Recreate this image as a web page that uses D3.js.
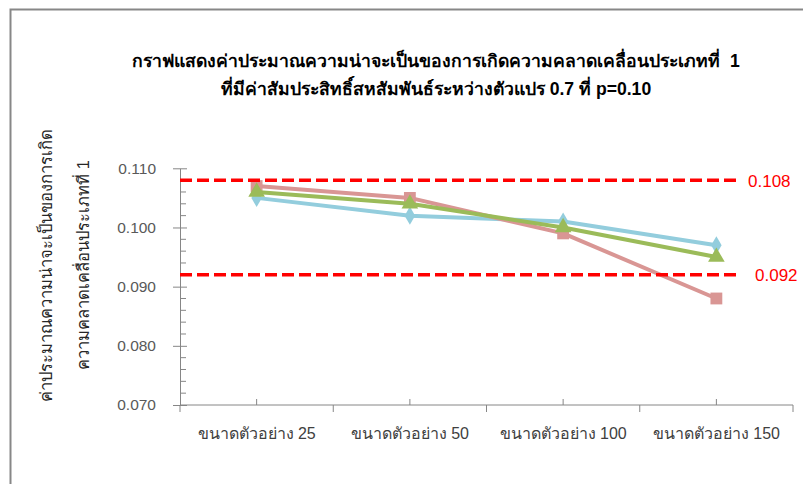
<!DOCTYPE html>
<html>
<head>
<meta charset="utf-8">
<script src="https://cdn.jsdelivr.net/npm/d3@7"></script>
<style>
  html, body { margin: 0; padding: 0; background: #fff; }
  svg { display: block; font-family: "Liberation Sans", Arial, "Noto Sans", sans-serif; }
  .title { white-space: pre; }
</style>
</head>
<body>
<svg id="chart" width="803" height="484"></svg>
<script>
// Sample-size categories along the x axis
const categories = ["ขนาดตัวอย่าง 25", "ขนาดตัวอย่าง 50", "ขนาดตัวอย่าง 100", "ขนาดตัวอย่าง 150"];

// Estimated Type I error rate for each series
const seriesBlue  = [0.105, 0.102, 0.101, 0.097];
const seriesRed   = [0.107, 0.105, 0.099, 0.088];
const seriesGreen = [0.106, 0.104, 0.100, 0.095];

// Acceptable range bounds (dashed reference lines)
const boundValues = [0.108, 0.092];
const boundLabels = ["0.108", "0.092"];

// Y axis ticks
const yTicks = [0.070, 0.080, 0.090, 0.100, 0.110];
const yMinorTicks = d3.range(35, 56).map(d => d * 0.002);

const titleLines = [
  "กราฟแสดงค่าประมาณความน่าจะเป็นของการเกิดความคลาดเคลื่อนประเภทที่  1",
  "ที่มีค่าสัมประสิทธิ์สหสัมพันธ์ระหว่างตัวแปร 0.7 ที่ p=0.10"
];
const yTitleLines = ["ค่าประมาณความน่าจะเป็นของการเกิด", "ความคลาดเคลื่อนประเภทที่ 1"];

const svg = d3.select("#chart");
const plot = { left: 180, right: 793, top: 168.3, bottom: 405 };

const x = d3.scaleBand().domain(categories).range([plot.left, plot.right]);
const y = d3.scaleLinear().domain([0.070, 0.110]).range([plot.bottom, plot.top]);
const cx = d => x(d) + x.bandwidth() / 2;

const axisColor = "#868686";

// Outer frame
svg.append("path")
  .attr("d", "M10.5,484 L10.5,9.5 L803,9.5")
  .attr("fill", "none").attr("stroke", "#878787").attr("stroke-width", 2);

// Title
svg.append("g").selectAll("text").data(titleLines).join("text")
  .attr("class", "title")
  .attr("x", 436).attr("y", (d, i) => 67 + i * 28)
  .attr("text-anchor", "middle")
  .attr("font-size", 17.6).attr("font-weight", "bold").attr("fill", "#000")
  .text(d => d);

// Y axis title (two rotated lines)
svg.append("g").selectAll("text").data(yTitleLines).join("text")
  .attr("transform", (d, i) => `translate(${46 + i * 37},265) rotate(-90)`)
  .attr("text-anchor", "middle").attr("dominant-baseline", "central")
  .attr("font-size", 16.5).attr("fill", "#262626")
  .text(d => d);

// Y axis: major ticks crossing the line, minor ticks inside
const yAxis = svg.append("g").attr("transform", `translate(${plot.left},0)`);
yAxis.call(d3.axisLeft(y).tickValues(yTicks).tickFormat(d3.format(".3f")).tickSizeInner(7).tickSizeOuter(0).tickPadding(17));
yAxis.select(".domain").attr("stroke", axisColor);
yAxis.selectAll(".tick line").attr("stroke", axisColor).attr("x2", 7).attr("x1", -7);
yAxis.selectAll(".tick text").attr("font-size", 15.5).attr("fill", "#595959")
  .attr("font-family", "'Liberation Sans', Arial, sans-serif");
yAxis.selectAll("line.minor").data(yMinorTicks.filter(v => !yTicks.some(t => Math.abs(t - v) < 1e-9)))
  .join("line").attr("class", "minor")
  .attr("x1", 0).attr("x2", 6)
  .attr("y1", d => y(d)).attr("y2", d => y(d))
  .attr("stroke", axisColor);

// X axis: boundary ticks outside, midpoint ticks inside
const xAxis = svg.append("g").attr("transform", `translate(0,${plot.bottom})`);
xAxis.append("line").attr("x1", plot.left).attr("x2", plot.right)
  .attr("stroke", axisColor);
const bounds = categories.map(c => x(c)).concat([plot.right]);
xAxis.selectAll("line.bound").data(bounds).join("line").attr("class", "bound")
  .attr("x1", d => d).attr("x2", d => d).attr("y1", 0).attr("y2", 7).attr("stroke", axisColor);
xAxis.selectAll("line.mid").data(categories).join("line").attr("class", "mid")
  .attr("x1", d => cx(d)).attr("x2", d => cx(d)).attr("y1", -6).attr("y2", 0).attr("stroke", axisColor);
xAxis.selectAll("text").data(categories).join("text")
  .attr("x", d => cx(d)).attr("y", 34)
  .attr("text-anchor", "middle").attr("font-size", 16).attr("fill", "#404040")
  .text(d => d);

// Series lines and markers
const line = d3.line().x((d, i) => cx(categories[i])).y(d => y(d));
const series = [
  { values: seriesBlue,  color: "#93CDDD", symbol: d3.symbolDiamond,  size: 95 },
  { values: seriesRed,   color: "#D99694", symbol: d3.symbolSquare,   size: 140 },
  { values: seriesGreen, color: "#9BBB59", symbol: d3.symbolTriangle, size: 120 }
];
series.forEach(s => {
  const g = svg.append("g");
  g.append("path").datum(s.values).attr("d", line)
    .attr("fill", "none").attr("stroke", s.color).attr("stroke-width", 4)
    .attr("stroke-linejoin", "round");
  g.selectAll("path.m").data(s.values).join("path").attr("class", "m")
    .attr("d", d3.symbol().type(s.symbol).size(s.size))
    .attr("transform", (d, i) => `translate(${cx(categories[i])},${y(d)})`)
    .attr("fill", s.color);
});

// Dashed bound lines with their labels
const boundG = svg.append("g");
boundG.selectAll("line").data(boundValues).join("line")
  .attr("x1", plot.left).attr("x2", 739)
  .attr("y1", d => y(d)).attr("y2", d => y(d))
  .attr("stroke", "#FF0000").attr("stroke-width", 3.5)
  .attr("stroke-dasharray", "12,5");
boundG.selectAll("text").data(boundValues).join("text")
  .attr("x", (d, i) => i === 0 ? 748 : 755)
  .attr("y", d => y(d) + 1)
  .attr("dominant-baseline", "central")
  .attr("font-size", 17).attr("fill", "#FF0000")
  .text((d, i) => boundLabels[i]);
</script>
</body>
</html>
